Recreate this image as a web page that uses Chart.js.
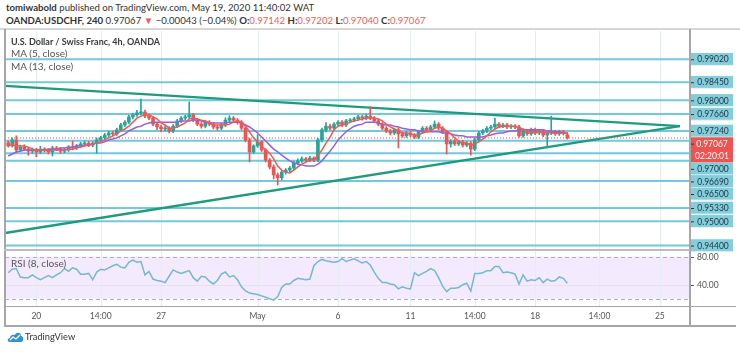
<!DOCTYPE html>
<html><head><meta charset="utf-8">
<script src="https://cdn.jsdelivr.net/npm/chart.js@4.4.1/dist/chart.umd.min.js"></script>
<style>
html,body{margin:0;padding:0;background:#fff}
body{width:740px;height:352px;position:relative;overflow:hidden;font-family:Lato,"Liberation Sans",Arial,sans-serif;color:#333}
.t{position:absolute;white-space:nowrap;line-height:1}
canvas{position:absolute;left:0;top:0}
.ln{position:absolute;background:#a6a6a6}
.red{color:#ef5e5b}
b{font-weight:700}
</style></head><body>
<div class="t" style="left:6px;top:3px;font-size:9.6px"><b>tomiwabold</b> published on TradingView.com, May 19, 2020 11:40:02 WAT</div>
<div class="t" style="left:6px;top:16px;font-size:9.6px"><b>OANDA:USDCHF, 240</b> 0.97067 <span class="red">▼</span> −0.00043 (−0.04%) <b>O:</b><span class="red">0.97142</span> <b>H:</b><span class="red">0.97202</span> <b>L:</b><span class="red">0.97040</span> <b>C:</b><span class="red">0.97067</span></div>
<div class="ln" style="left:0;top:28px;width:740px;height:2px;background:#d6d6d6"></div>
<canvas id="c1" width="740" height="352"></canvas>
<canvas id="c2" width="740" height="352"></canvas>
<div class="ln" style="left:4px;top:29px;width:2px;height:298px"></div>
<div class="ln" style="left:689px;top:29px;width:2px;height:298px"></div>
<div class="ln" style="left:4px;top:249px;width:686px;height:2px;background:#bdbdbd"></div>
<div class="ln" style="left:4px;top:306px;width:732px;height:1px"></div>
<div class="ln" style="left:4px;top:325px;width:732px;height:2px"></div>
<div class="t" style="left:11px;top:37px;font-size:9px;font-weight:700;color:#3a3a3a">U.S. Dollar / Swiss Franc, 4h, OANDA</div>
<div class="t" style="left:11px;top:48px;font-size:10px;color:#555">MA (5, close)</div>
<div class="t" style="left:11px;top:61px;font-size:10px;color:#555">MA (13, close)</div>
<div class="t" style="left:11px;top:258px;font-size:10px;color:#555">RSI (8, close)</div>
<svg style="position:absolute;left:7px;top:331px" width="17" height="12" viewBox="0 0 17 12">
<path d="M3 11 C0 11 0 7 3 7 C3 4 6 3 8 4 C9 1 14 1 14 5 C17 5 17 11 14 11 Z" fill="#2e8fdc"/>
<polyline points="3,9 6,6 9,8 13,4" fill="none" stroke="#fff" stroke-width="1.3"/>
</svg>
<div class="t" style="left:25px;top:332px;font-size:9.3px;color:#333">TradingView</div>
<script>
// ---- data ----
const opens = [0.9695,0.9687,0.9702,0.9677,0.9684,0.9679,0.9674,0.9677,0.9672,0.9679,
0.9677,0.9672,0.9682,0.9679,0.9674,0.9677,0.9684,0.9682,0.9687,0.9692,
0.9694,0.9689,0.9694,0.9702,0.9707,0.9714,0.9719,0.9717,0.9727,0.9739,
0.9746,0.9759,0.9764,0.9769,0.9771,0.9761,0.9756,0.9741,0.9734,0.9729,
0.9731,0.9724,0.9736,0.9749,0.9756,0.9759,0.9764,0.9751,0.9741,0.9736,
0.9746,0.9741,0.9734,0.9731,0.9739,0.9751,0.9756,0.9751,0.9746,0.9731,
0.9702,0.9672,0.9687,0.9697,0.9677,0.9652,0.9635,0.9615,0.9608,0.9622,
0.9627,0.9632,0.9645,0.9650,0.9655,0.9652,0.9657,0.9652,0.9702,0.9727,
0.9736,0.9731,0.9741,0.9746,0.9739,0.9749,0.9751,0.9754,0.9759,0.9756,
0.9761,0.9756,0.9749,0.9741,0.9731,0.9724,0.9719,0.9727,0.9717,0.9712,
0.9719,0.9714,0.9709,0.9722,0.9731,0.9727,0.9734,0.9741,0.9731,0.9722,
0.9692,0.9699,0.9692,0.9697,0.9689,0.9694,0.9679,0.9702,0.9719,0.9724,
0.9731,0.9734,0.9741,0.9736,0.9739,0.9734,0.9736,0.9734,0.9712,0.9724,
0.9717,0.9727,0.9719,0.9724,0.9714,0.9719,0.9722,0.9717,0.9722,0.97142];
const highs = [0.9699,0.9707,0.9712,0.9689,0.9690,0.9683,0.9682,0.9681,0.9686,0.9683,
0.9681,0.9686,0.9686,0.9683,0.9681,0.9688,0.9699,0.9691,0.9696,0.9699,
0.9698,0.9698,0.9707,0.9711,0.9718,0.9723,0.9723,0.9731,0.9743,0.9750,
0.9763,0.9768,0.9775,0.9803,0.9776,0.9766,0.9760,0.9745,0.9739,0.9736,
0.9735,0.9740,0.9753,0.9760,0.9763,0.9796,0.9768,0.9755,0.9745,0.9750,
0.9750,0.9745,0.9738,0.9743,0.9757,0.9762,0.9760,0.9755,0.9750,0.9735,
0.9706,0.9690,0.9715,0.9700,0.9680,0.9656,0.9640,0.9620,0.9626,0.9631,
0.9636,0.9649,0.9655,0.9660,0.9659,0.9661,0.9660,0.9706,0.9731,0.9745,
0.9741,0.9745,0.9750,0.9750,0.9753,0.9755,0.9758,0.9763,0.9763,0.9766,
0.9784,0.9760,0.9753,0.9745,0.9735,0.9728,0.9731,0.9731,0.9721,0.9723,
0.9723,0.9718,0.9726,0.9735,0.9735,0.9738,0.9749,0.9745,0.9735,0.9726,
0.9703,0.9703,0.9701,0.9701,0.9698,0.9698,0.9706,0.9723,0.9728,0.9735,
0.9738,0.9756,0.9745,0.9743,0.9743,0.9740,0.9740,0.9738,0.9728,0.9728,
0.9731,0.9731,0.9728,0.9728,0.9723,0.9761,0.9726,0.9726,0.9726,0.97202];
const lows = [0.9684,0.9684,0.9670,0.9673,0.9675,0.9664,0.9669,0.9660,0.9668,0.9672,
0.9667,0.9662,0.9675,0.9669,0.9670,0.9673,0.9677,0.9678,0.9683,0.9688,
0.9685,0.9685,0.9669,0.9698,0.9703,0.9710,0.9712,0.9713,0.9723,0.9735,
0.9742,0.9754,0.9760,0.9764,0.9757,0.9752,0.9737,0.9727,0.9722,0.9724,
0.9719,0.9720,0.9732,0.9745,0.9752,0.9755,0.9747,0.9737,0.9731,0.9732,
0.9737,0.9729,0.9726,0.9727,0.9735,0.9747,0.9747,0.9741,0.9727,0.9697,
0.9647,0.9668,0.9683,0.9673,0.9647,0.9630,0.9605,0.9590,0.9603,0.9617,
0.9622,0.9628,0.9640,0.9646,0.9648,0.9648,0.9648,0.9648,0.9697,0.9722,
0.9726,0.9727,0.9737,0.9735,0.9735,0.9745,0.9747,0.9750,0.9751,0.9752,
0.9752,0.9745,0.9737,0.9727,0.9720,0.9714,0.9715,0.9682,0.9708,0.9708,
0.9710,0.9705,0.9705,0.9718,0.9723,0.9723,0.9730,0.9727,0.9718,0.9667,
0.9684,0.9688,0.9688,0.9684,0.9685,0.9664,0.9675,0.9698,0.9715,0.9720,
0.9727,0.9730,0.9732,0.9732,0.9730,0.9730,0.9730,0.9708,0.9708,0.9713,
0.9713,0.9715,0.9715,0.9710,0.9682,0.9715,0.9713,0.9713,0.9714,0.97040];
const closes = [0.9687,0.9702,0.9677,0.9684,0.9679,0.9674,0.9677,0.9672,0.9679,0.9677,
0.9672,0.9682,0.9679,0.9674,0.9677,0.9684,0.9682,0.9687,0.9692,0.9694,
0.9689,0.9694,0.9702,0.9707,0.9714,0.9719,0.9717,0.9727,0.9739,0.9746,
0.9759,0.9764,0.9769,0.9771,0.9761,0.9756,0.9741,0.9734,0.9729,0.9731,
0.9724,0.9736,0.9749,0.9756,0.9759,0.9764,0.9751,0.9741,0.9736,0.9746,
0.9741,0.9734,0.9731,0.9739,0.9751,0.9756,0.9751,0.9746,0.9731,0.9702,
0.9672,0.9687,0.9697,0.9677,0.9652,0.9635,0.9615,0.9608,0.9622,0.9627,
0.9632,0.9645,0.9650,0.9655,0.9652,0.9657,0.9652,0.9702,0.9727,0.9736,
0.9731,0.9741,0.9746,0.9739,0.9749,0.9751,0.9754,0.9759,0.9756,0.9761,
0.9756,0.9749,0.9741,0.9731,0.9724,0.9719,0.9727,0.9717,0.9712,0.9719,
0.9714,0.9709,0.9722,0.9731,0.9727,0.9734,0.9741,0.9731,0.9722,0.9692,
0.9699,0.9692,0.9697,0.9689,0.9694,0.9679,0.9702,0.9719,0.9724,0.9731,
0.9734,0.9741,0.9736,0.9739,0.9734,0.9736,0.9734,0.9712,0.9724,0.9717,
0.9727,0.9719,0.9724,0.9714,0.9719,0.9722,0.9717,0.9722,0.9719,0.97067];
const ma5 = [0.9689,0.9689,0.9687,0.9687,0.9687,0.9684,0.9679,0.9677,0.9677,0.9677,
0.9674,0.9677,0.9677,0.9677,0.9677,0.9679,0.9679,0.9682,0.9684,0.9687,
0.9689,0.9692,0.9694,0.9697,0.9702,0.9707,0.9712,0.9717,0.9724,0.9729,
0.9736,0.9746,0.9756,0.9761,0.9764,0.9764,0.9759,0.9754,0.9744,0.9739,
0.9731,0.9731,0.9734,0.9739,0.9744,0.9754,0.9756,0.9754,0.9751,0.9749,
0.9744,0.9739,0.9739,0.9739,0.9739,0.9741,0.9746,0.9749,0.9746,0.9736,
0.9722,0.9707,0.9697,0.9687,0.9677,0.9669,0.9655,0.9637,0.9627,0.9622,
0.9620,0.9627,0.9635,0.9642,0.9647,0.9652,0.9652,0.9664,0.9677,0.9694,
0.9709,0.9727,0.9736,0.9739,0.9741,0.9746,0.9749,0.9751,0.9754,0.9756,
0.9756,0.9756,0.9754,0.9749,0.9741,0.9734,0.9729,0.9724,0.9719,0.9719,
0.9717,0.9714,0.9714,0.9719,0.9722,0.9724,0.9731,0.9734,0.9731,0.9724,
0.9717,0.9707,0.9699,0.9694,0.9694,0.9689,0.9692,0.9697,0.9704,0.9712,
0.9722,0.9729,0.9734,0.9736,0.9736,0.9736,0.9736,0.9731,0.9729,0.9724,
0.9722,0.9719,0.9722,0.9719,0.9722,0.9719,0.9719,0.9719,0.9719,0.9717];
const ma13 = [0.9662,0.9667,0.9672,0.9674,0.9677,0.9677,0.9677,0.9677,0.9677,0.9677,
0.9679,0.9679,0.9679,0.9682,0.9682,0.9684,0.9684,0.9687,0.9687,0.9689,
0.9689,0.9692,0.9694,0.9694,0.9697,0.9702,0.9704,0.9707,0.9712,0.9717,
0.9724,0.9729,0.9734,0.9736,0.9741,0.9744,0.9746,0.9746,0.9746,0.9746,
0.9746,0.9746,0.9746,0.9749,0.9749,0.9749,0.9751,0.9751,0.9749,0.9746,
0.9744,0.9744,0.9744,0.9744,0.9744,0.9746,0.9746,0.9746,0.9744,0.9739,
0.9734,0.9727,0.9719,0.9709,0.9699,0.9689,0.9679,0.9672,0.9664,0.9657,
0.9650,0.9645,0.9642,0.9640,0.9637,0.9637,0.9637,0.9642,0.9650,0.9662,
0.9674,0.9687,0.9702,0.9712,0.9722,0.9729,0.9736,0.9739,0.9741,0.9746,
0.9746,0.9746,0.9744,0.9741,0.9739,0.9739,0.9736,0.9734,0.9731,0.9729,
0.9727,0.9727,0.9724,0.9724,0.9722,0.9722,0.9722,0.9722,0.9719,0.9719,
0.9717,0.9714,0.9712,0.9712,0.9709,0.9709,0.9709,0.9709,0.9709,0.9712,
0.9714,0.9717,0.9719,0.9719,0.9722,0.9724,0.9724,0.9727,0.9727,0.9727,
0.9727,0.9727,0.9727,0.9727,0.9724,0.9724,0.9722,0.9722,0.9719,0.9719];
const rsi8 = [57,62,63,51,50,50,54,50,47,50,
53,50,54,57,63,59,64,62,55,55,
56,47,58,62,61,64,67,69,65,64,
72,75,72,73,54,59,48,46,45,43,
52,61,58,56,58,60,50,45,52,51,
45,41,46,55,58,51,53,47,37,31,
28,27,26,24,22,20,18,23,36,41,
41,46,49,48,47,48,67,73,76,74,
73,72,73,77,73,75,77,74,71,73,
68,58,49,43,43,41,40,34,37,35,
34,57,53,56,59,63,60,50,38,30,
35,35,36,40,42,31,56,56,57,60,
60,66,66,57,58,57,55,41,54,45,
47,46,50,43,48,45,46,51,49,42];
const levels = [0.99020,0.98450,0.98000,0.97660,0.97240,0.97000,0.96690,0.96500,0.96000,0.95330,0.95000,0.94400];
const levelLabels = ['0.99020','0.98450','0.98000','0.97660','0.97240','0.97000','0.96690','0.96500','','0.95330','0.95000','0.94400'];
const lastPrice = 0.97067;
const lastPriceLabel = '0.97067';
const countdownLabel = '02:20:01';
const trendUpper = [{x:-0.8,y:0.9836},{x:167,y:0.9736}];
const trendLower = [{x:-0.8,y:0.9471},{x:167,y:0.9736}];
const tickIdx = [7,23,38,62,82,100,116,131,147,162];
const tickLabels = ['20','14:00','27','May','6','11','14:00','18','14:00','25'];
const rsiTicks = [80,40];
const rsiTickLabels = ['80.00','40.00'];
const rsiBand = [20,80];

// ---- config ----
const X_MIN=-0.8, X_MAX=169.5, Y_MIN=0.94289, Y_MAX=0.9972, R_MIN=9.6, R_MAX=88;
const UP='#26a69a', DOWN='#ef5350';
const FONT='Lato, "Liberation Sans", Arial, sans-serif';
Chart.defaults.font.family=FONT;
const barIndex = closes.map((_,i)=>i);
const candleColors = barIndex.map(i=>closes[i]>=opens[i]?UP:DOWN);

const vGrid = {
  id:'vGrid',
  beforeDatasetsDraw(chart){
    const {ctx, chartArea:a, scales:{x}} = chart;
    ctx.save(); ctx.strokeStyle='#e3eef2'; ctx.lineWidth=1;
    tickIdx.forEach(t=>{const px=Math.round(x.getPixelForValue(t))+0.5;
      ctx.beginPath(); ctx.moveTo(px,a.top); ctx.lineTo(px,a.bottom); ctx.stroke();});
    ctx.restore();
  }
};

const priceLabels = {
  id:'priceLabels',
  afterDraw(chart){
    const {ctx, scales:{y}} = chart;
    const H=12.6, L=691, W=42;
    const items=[];
    levels.forEach((v,k)=>{ if(levelLabels[k]) items.push({v, text:levelLabels[k], kind:'lvl'}); });
    items.push({v:lastPrice, text:lastPriceLabel, kind:'last'});
    items.sort((a,b)=>b.v-a.v);
    let prevBottom=-1e9;
    ctx.save();
    ctx.font='8.5px '+FONT; ctx.textAlign='center'; ctx.textBaseline='middle';
    items.forEach(it=>{
      const py=y.getPixelForValue(it.v);
      let top=Math.max(py-H/2, prevBottom);
      const h = it.kind==='last'? 2*H : H;
      if(it.kind==='last'){
        ctx.fillStyle='#f0524f'; ctx.fillRect(L,top,W,h);
        ctx.fillStyle='#fff';
        ctx.fillText(it.text, L+W/2, top+H/2+0.5);
        ctx.fillText(countdownLabel, L+W/2, top+H+H/2+0.5);
      } else {
        ctx.fillStyle='#84cedc'; ctx.fillRect(L,top,W,h);
        ctx.fillStyle='#1e3442';
        ctx.fillText(it.text, L+W/2+1, top+H/2+0.5);
        ctx.fillStyle='#fff'; ctx.fillRect(L,top+h-0.6,W,0.6);
      }
      ctx.fillStyle='#333'; ctx.fillRect(L,top+H/2,3,1);
      prevBottom=top+h;
    });
    ctx.restore();
  }
};

const lineSet = (data, color, width, order, dash) => ({type:'line', data, borderColor:color, borderWidth:width,
  pointRadius:0, tension:0, fill:false, order, borderDash:dash||[]});

const datasets = [];
levels.forEach(v=>datasets.push(lineSet([{x:X_MIN,y:v},{x:X_MAX,y:v}], 'rgba(92,190,212,0.85)', 2, 10)));
datasets.push(lineSet(trendUpper, '#1d9c7c', 2.4, 9));
datasets.push(lineSet(trendLower, '#1d9c7c', 2.4, 9));
datasets.push(lineSet([{x:X_MIN,y:lastPrice},{x:X_MAX,y:lastPrice}], '#ef5350', 1, 8, [1,2]));
datasets.push({type:'bar', data:barIndex.map(i=>({x:i,y:[lows[i],highs[i]]})), backgroundColor:candleColors,
  barThickness:1, grouped:false, order:6, borderWidth:0});
datasets.push({type:'bar', data:barIndex.map(i=>({x:i,y:[opens[i],closes[i]]})), backgroundColor:candleColors,
  barThickness:3, grouped:false, order:5, borderWidth:0, minBarLength:1});
datasets.push(lineSet(barIndex.map(i=>({x:i,y:ma13[i]})), '#9a5fd6', 1.5, 2));
datasets.push(lineSet(barIndex.map(i=>({x:i,y:ma5[i]})), '#f05a55', 1.5, 1));

new Chart(document.getElementById('c1'), {
  type:'bar',
  data:{datasets},
  options:{
    responsive:false, animation:false, events:[], devicePixelRatio:1,
    layout:{padding:{left:5,right:50,top:31,bottom:102}},
    plugins:{legend:{display:false}, tooltip:{enabled:false}},
    scales:{
      x:{type:'linear', min:X_MIN, max:X_MAX, display:false, offset:false},
      y:{type:'linear', min:Y_MIN, max:Y_MAX, display:false}
    }
  },
  plugins:[vGrid, priceLabels]
});

const rsiDecor = {
  id:'rsiDecor',
  beforeDatasetsDraw(chart){
    const {ctx, chartArea:a, scales:{x,y}} = chart;
    ctx.save();
    const t=y.getPixelForValue(rsiBand[1]), b=y.getPixelForValue(rsiBand[0]);
    ctx.fillStyle='#f3eafd'; ctx.fillRect(a.left,t,a.right-a.left,b-t);
    ctx.strokeStyle='#e3eef2'; ctx.lineWidth=1;
    tickIdx.forEach(v=>{const px=Math.round(x.getPixelForValue(v))+0.5;
      ctx.beginPath(); ctx.moveTo(px,a.top); ctx.lineTo(px,a.bottom); ctx.stroke();});
    ctx.strokeStyle='#e8e0f0';
    const p40=Math.round(y.getPixelForValue(40))+0.5;
    ctx.beginPath(); ctx.moveTo(a.left,p40); ctx.lineTo(a.right,p40); ctx.stroke();
    ctx.strokeStyle='#b5aec2'; ctx.setLineDash([4,3]);
    [t,b].forEach(p=>{const q=Math.round(p)+0.5; ctx.beginPath(); ctx.moveTo(a.left,q); ctx.lineTo(a.right,q); ctx.stroke();});
    ctx.restore();
  },
  afterDraw(chart){
    const {ctx, chartArea:a, scales:{x,y}} = chart;
    ctx.save();
    ctx.font='8.5px '+FONT; ctx.fillStyle='#555'; ctx.textBaseline='middle';
    ctx.textAlign='left';
    rsiTicks.forEach((v,k)=>{const py=y.getPixelForValue(v);
      ctx.fillRect(691,Math.round(py),3,1);
      ctx.fillText(rsiTickLabels[k], 697, py+0.5);});
    ctx.textAlign='center';
    tickIdx.forEach((v,k)=>ctx.fillText(tickLabels[k], x.getPixelForValue(v), 316.5));
    ctx.restore();
  }
};

new Chart(document.getElementById('c2'), {
  type:'line',
  data:{datasets:[lineSet(barIndex.map(i=>({x:i,y:rsi8[i]})), '#76b8cd', 1.5, 1)]},
  options:{
    responsive:false, animation:false, events:[], devicePixelRatio:1,
    layout:{padding:{left:5,right:50,top:251,bottom:46}},
    plugins:{legend:{display:false}, tooltip:{enabled:false}},
    scales:{
      x:{type:'linear', min:X_MIN, max:X_MAX, display:false},
      y:{type:'linear', min:R_MIN, max:R_MAX, display:false}
    }
  },
  plugins:[rsiDecor]
});
</script>
</body></html>
